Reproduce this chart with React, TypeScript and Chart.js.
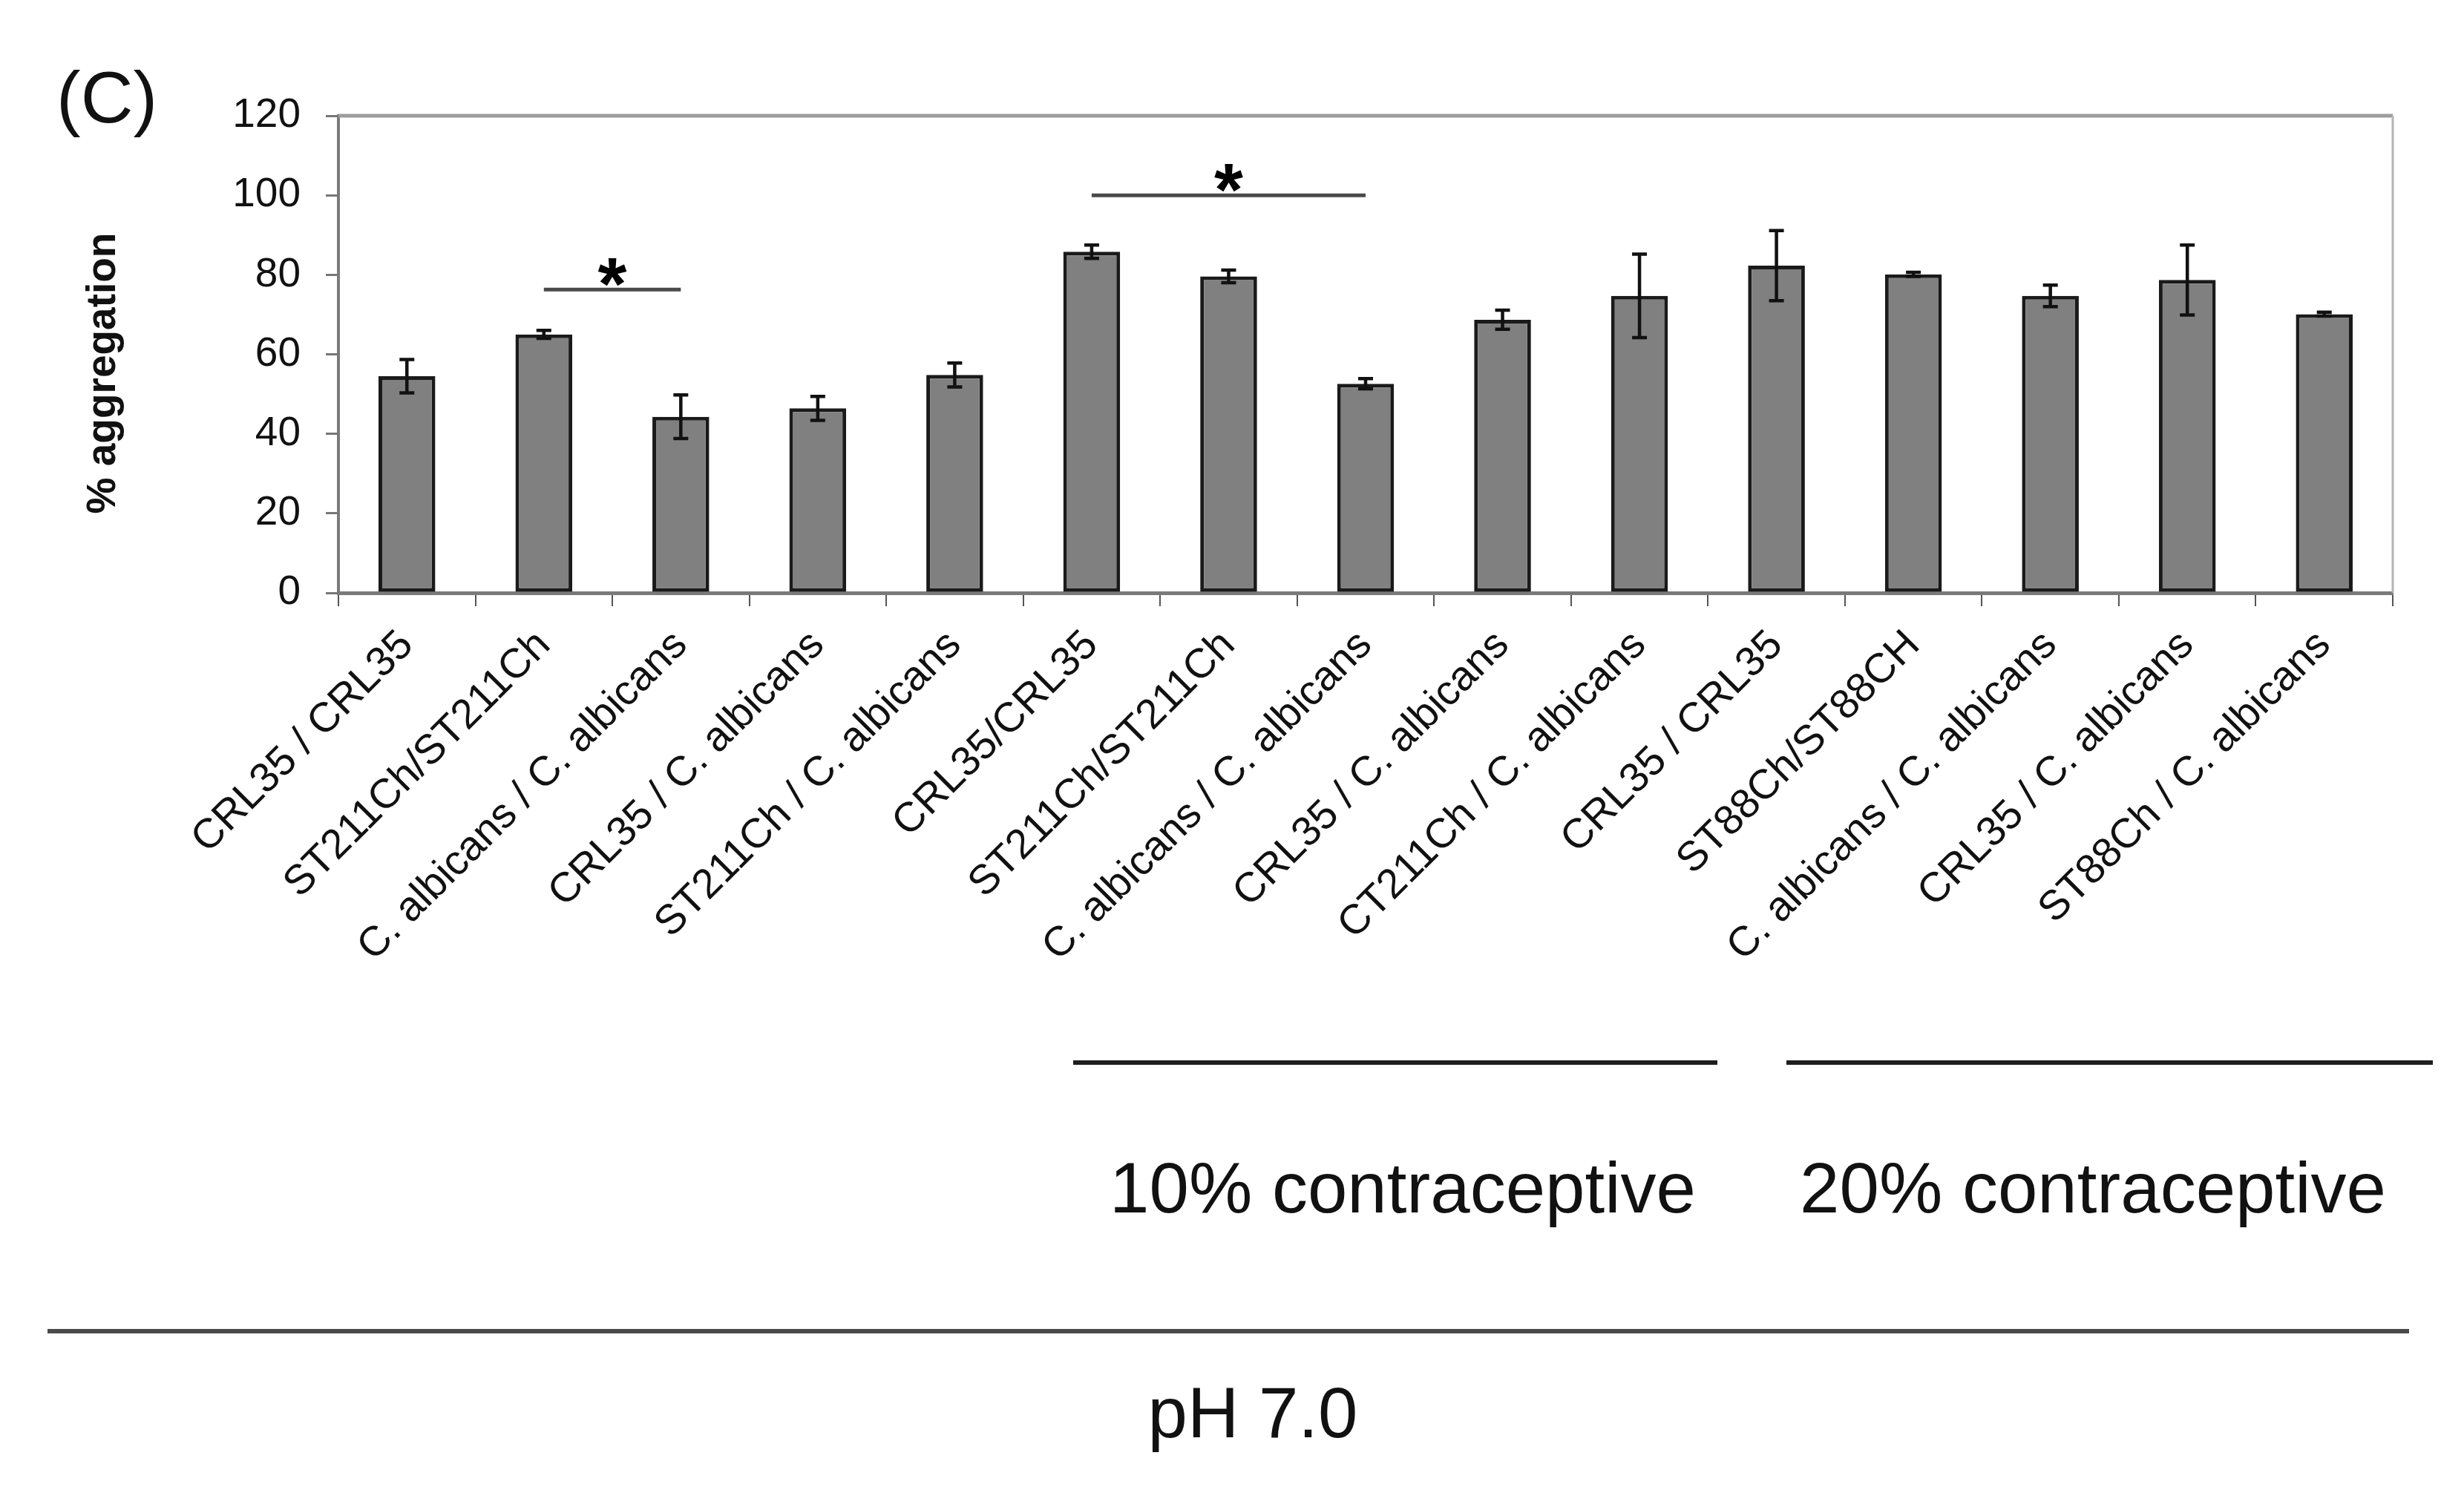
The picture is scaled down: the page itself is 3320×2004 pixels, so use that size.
import React, { useEffect, useRef } from "react";
import { Chart, registerables } from "chart.js";

Chart.register(...registerables);

// ---------- data ----------
const categories = [
  "CRL35 / CRL35",
  "ST211Ch/ST211Ch",
  "C. albicans / C. albicans",
  "CRL35 / C. albicans",
  "ST211Ch / C. albicans",
  "CRL35/CRL35",
  "ST211Ch/ST211Ch",
  "C. albicans / C. albicans",
  "CRL35 / C. albicans",
  "CT211Ch / C. albicans",
  "CRL35 / CRL35",
  "ST88Ch/ST88CH",
  "C. albicans / C. albicans",
  "CRL35 / C. albicans",
  "ST88Ch / C. albicans",
];
const aggregation = [54.5, 65.0, 44.3, 46.4, 54.8, 85.8, 79.6, 52.6, 68.7, 74.7, 82.3, 80.1, 74.7, 78.7, 70.1];
const errors = [4.2, 1.0, 5.5, 3.0, 3.0, 1.7, 1.6, 1.3, 2.4, 10.5, 8.8, 0.5, 2.7, 8.8, 0.5];
const yMin = 0;
const yMax = 120;
const yStep = 20;
const sigFrom = [1, 5];
const sigTo = [2, 7];
const sigLevel = [76.3, 100];
const sigMark = ["*", "*"];
const groupLabels = ["10% contraceptive", "20% contraceptive"];
const conditionLabel = "pH 7.0";
const panelLabel = "(C)";
const yTitle = "% aggregation";

// ---------- layout / style ----------
const W = 3320;
const H = 2004;
const FONT = '"Liberation Sans", Arial, Helvetica, sans-serif';
const layout = {
  plotTop: 156,
  plotRight: 3224,
  plotLeft: 456,
  plotBottom: 799,
  groupLineY: 1432,
  groupLines: [
    [1446, 2314],
    [2407, 3278],
  ],
  groupTextX: [1890, 2820],
  groupTextBaseline: 1634,
  condLineY: 1794,
  condLine: [64, 3246],
  condTextX: 1688,
  condTextBaseline: 1937,
  panelX: 76,
  panelBaseline: 165,
  yTitleX: 140,
  yTitleY: 503,
};

const annotationPlugin = {
  id: "annotations",
  afterDatasetsDraw(chart: any) {
    const ctx = chart.ctx;
    const xs = chart.scales.x;
    const ys = chart.scales.y;
    const meta = chart.getDatasetMeta(0);
    ctx.save();
    // error bars
    ctx.strokeStyle = "#111";
    ctx.lineWidth = 4.5;
    ctx.lineCap = "butt";
    meta.data.forEach((bar: any, i: number) => {
      const v = aggregation[i];
      const e = errors[i];
      const top = ys.getPixelForValue(v + e);
      const bot = ys.getPixelForValue(v - e);
      const cx = bar.x;
      const cap = 10;
      ctx.beginPath();
      ctx.moveTo(cx, top);
      ctx.lineTo(cx, bot);
      ctx.moveTo(cx - cap, top);
      ctx.lineTo(cx + cap, top);
      ctx.moveTo(cx - cap, bot);
      ctx.lineTo(cx + cap, bot);
      ctx.stroke();
    });
    // significance lines
    for (let k = 0; k < sigFrom.length; k++) {
      const x1 = xs.getPixelForValue(sigFrom[k]);
      const x2 = xs.getPixelForValue(sigTo[k]);
      const yy = ys.getPixelForValue(sigLevel[k]);
      ctx.strokeStyle = "#4a4a4a";
      ctx.lineWidth = 5;
      ctx.beginPath();
      ctx.moveTo(x1, yy);
      ctx.lineTo(x2, yy);
      ctx.stroke();
      ctx.fillStyle = "#000";
      ctx.font = `bold 100px ${FONT}`;
      ctx.textAlign = "center";
      ctx.textBaseline = "alphabetic";
      ctx.fillText(sigMark[k], (x1 + x2) / 2, yy - 28 + 55);
    }
    ctx.restore();
  },
  afterDraw(chart: any) {
    const ctx = chart.ctx;
    const a = chart.chartArea;
    ctx.save();
    // plot-area frame (top / right)
    ctx.strokeStyle = "#9c9c9c";
    ctx.lineWidth = 5;
    ctx.beginPath();
    ctx.moveTo(a.left, a.top);
    ctx.lineTo(a.right, a.top);
    ctx.stroke();
    ctx.strokeStyle = "#b4b4b4";
    ctx.lineWidth = 3;
    ctx.beginPath();
    ctx.moveTo(a.right, a.top);
    ctx.lineTo(a.right, a.bottom);
    ctx.stroke();

    // panel label
    ctx.fillStyle = "#111";
    ctx.font = `98px ${FONT}`;
    ctx.textAlign = "left";
    ctx.textBaseline = "alphabetic";
    ctx.fillText(panelLabel, layout.panelX, layout.panelBaseline);

    // y title
    ctx.save();
    ctx.translate(layout.yTitleX, layout.yTitleY);
    ctx.rotate(-Math.PI / 2);
    ctx.font = `bold 55px ${FONT}`;
    ctx.textAlign = "center";
    ctx.textBaseline = "middle";
    ctx.fillText(yTitle, 0, 0);
    ctx.restore();

    // group lines
    ctx.strokeStyle = "#1e1e1e";
    ctx.lineWidth = 6;
    layout.groupLines.forEach(([x1, x2]) => {
      ctx.beginPath();
      ctx.moveTo(x1, layout.groupLineY);
      ctx.lineTo(x2, layout.groupLineY);
      ctx.stroke();
    });
    ctx.font = `96px ${FONT}`;
    ctx.textAlign = "center";
    ctx.fillStyle = "#111";
    groupLabels.forEach((t, i) => {
      ctx.fillText(t, layout.groupTextX[i], layout.groupTextBaseline);
    });

    // condition line
    ctx.strokeStyle = "#4a4a4a";
    ctx.lineWidth = 6;
    ctx.beginPath();
    ctx.moveTo(layout.condLine[0], layout.condLineY);
    ctx.lineTo(layout.condLine[1], layout.condLineY);
    ctx.stroke();
    ctx.fillText(conditionLabel, layout.condTextX, layout.condTextBaseline);
    ctx.restore();
  },
};

export default function App() {
  const ref = useRef<HTMLCanvasElement | null>(null);

  useEffect(() => {
    document.body.style.margin = "0";
    document.body.style.background = "#fff";
    const canvas = ref.current;
    if (!canvas) return;
    const chart = new Chart(canvas, {
      type: "bar",
      data: {
        labels: categories,
        datasets: [
          {
            data: aggregation,
            backgroundColor: "#808080",
            borderColor: "#1a1a1a",
            borderWidth: 5,
            borderSkipped: false,
            barPercentage: 0.415,
            categoryPercentage: 1,
          },
        ],
      },
      options: {
        animation: false,
        responsive: false,
        devicePixelRatio: 1,
        layout: {
          padding: {
            top: layout.plotTop,
            right: W - layout.plotRight,
            left: 0,
            bottom: 0,
          },
        },
        plugins: {
          legend: { display: false },
          tooltip: { enabled: false },
          title: { display: false },
        },
        scales: {
          x: {
            type: "category",
            grid: {
              offset: true,
              drawOnChartArea: false,
              drawTicks: true,
              tickLength: 18,
              color: "#555",
              lineWidth: 2,
            },
            border: { display: true, color: "#7a7a7a", width: 5 },
            ticks: {
              autoSkip: false,
              minRotation: 45,
              maxRotation: 45,
              padding: 20,
              color: "#111",
              font: { family: FONT, size: 56 },
            },
            afterFit: (s: any) => {
              s.height = H - layout.plotBottom;
            },
          },
          y: {
            min: yMin,
            max: yMax,
            ticks: {
              stepSize: yStep,
              padding: 34,
              color: "#111",
              font: { family: FONT, size: 55 },
            },
            grid: {
              drawOnChartArea: false,
              drawTicks: true,
              tickLength: 17,
              color: "#777",
              lineWidth: 3,
            },
            border: { display: true, color: "#7a7a7a", width: 4 },
            afterFit: (s: any) => {
              s.width = layout.plotLeft;
            },
          },
        },
      },
      plugins: [annotationPlugin],
    } as any);
    return () => chart.destroy();
  }, []);

  return (
    <div style={{ width: W, height: H, background: "#fff" }}>
      <canvas ref={ref} width={W} height={H} style={{ display: "block", width: W, height: H }} />
    </div>
  );
}
